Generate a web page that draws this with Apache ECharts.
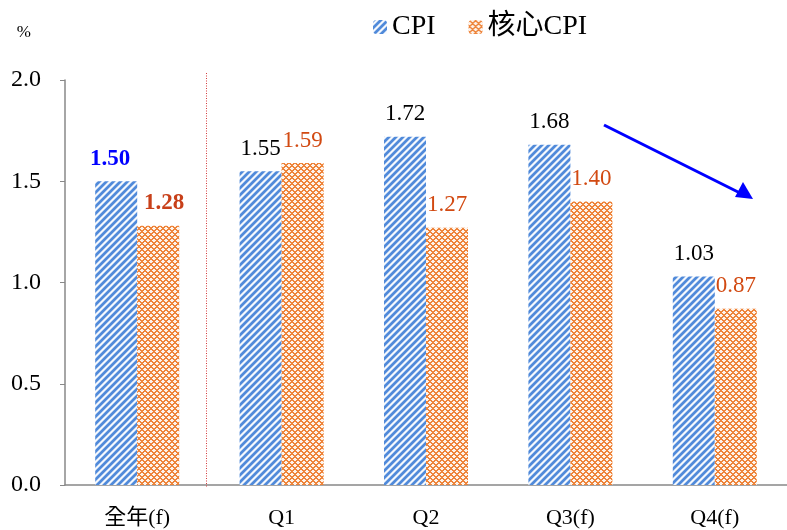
<!DOCTYPE html>
<html><head><meta charset="utf-8">
<script src="https://cdn.jsdelivr.net/npm/echarts@6/dist/echarts.min.js"></script>
<style>html,body{margin:0;padding:0;background:#fff}#c{width:787px;height:530px}</style>
</head><body><div id="c"></div>
<script>
const categories = ['全年(f)', 'Q1', 'Q2', 'Q3(f)', 'Q4(f)'];
const cpiValues = [1.50, 1.55, 1.72, 1.68, 1.03];
const coreValues = [1.28, 1.59, 1.27, 1.40, 0.87];
const yTicks = ['0.0', '0.5', '1.0', '1.5', '2.0'];

const FONT = "'Liberation Serif', 'Noto Sans CJK TC', serif";

function makePattern(size, fn) {
  const c = document.createElement('canvas');
  c.width = size; c.height = size;
  const ctx = c.getContext('2d');
  const img = ctx.createImageData(size, size);
  for (let y = 0; y < size; y++) for (let x = 0; x < size; x++) {
    const [r, g, b] = fn(x, y);
    const i = (y * size + x) * 4;
    img.data[i] = r; img.data[i + 1] = g; img.data[i + 2] = b; img.data[i + 3] = 255;
  }
  ctx.putImageData(img, 0, 0);
  return c;
}
function mix(a, b, t) { return a.map((v, i) => Math.round(v * (1 - t) + b[i] * t)); }
const BLUE = [80, 138, 218], WHITE = [255, 255, 255], ORANGE = [238, 132, 58];
const stripe = makePattern(7, (x, y) => {
  const p = (x + y) % 7;
  const t = 0.5 + 0.5 * Math.cos(2 * Math.PI * p / 7);
  return mix(WHITE, BLUE, Math.min(1, t * 1.25));
});
const hatch = makePattern(6, (x, y) => {
  const d1 = (x + y) % 6, d2 = ((x - y) % 6 + 6) % 6;
  const on = (d1 < 2 || d2 < 2);
  return on ? ORANGE : mix(WHITE, ORANGE, 0.1);
});

const chart = echarts.init(document.getElementById('c'));
const cpiData = cpiValues.map((v, i) => i === 0
  ? { value: v, label: { fontWeight: 'bold', color: '#0000ff', fontSize: 23, offset: [-6, 0] } }
  : v);
const coreData = coreValues.map((v, i) => i === 0
  ? { value: v, label: { fontWeight: 'bold', color: '#c8401a', fontSize: 23, offset: [6, 0] } }
  : v);

chart.setOption({
  animation: false,
  textStyle: { fontFamily: FONT },
  legend: {
    top: 8, left: 368,
    itemWidth: 14, itemHeight: 14, itemGap: 33,
    textStyle: { fontFamily: FONT, fontSize: 28, color: '#000' },
    data: ['CPI', '核心CPI']
  },
  grid: { left: 65, top: 80, width: 725, height: 405, containLabel: false },
  xAxis: {
    type: 'category', data: categories,
    axisLine: { lineStyle: { color: '#888', width: 1.5 } },
    axisTick: { show: false },
    axisLabel: { fontFamily: FONT, fontSize: 22, color: '#000', margin: 22 }
  },
  yAxis: {
    type: 'value', min: 0, max: 2, interval: 0.5,
    name: '%', nameLocation: 'end',
    nameGap: 39,
    nameTextStyle: { fontFamily: FONT, fontSize: 17, color: '#000', align: 'right', padding: [0, 34, 0, 0] },
    axisLine: { show: true, lineStyle: { color: '#888', width: 1.5 } },
    axisTick: { show: true, inside: false, length: 5, lineStyle: { color: '#888' } },
    splitLine: { show: false },
    axisLabel: { fontFamily: FONT, fontSize: 24, color: '#000', margin: 24,
      formatter: (v) => yTicks[Math.round(v / 0.5)] }
  },
  series: [
    {
      name: 'CPI', type: 'bar', data: cpiData, barWidth: 42, barGap: '0%',
      itemStyle: { color: { image: stripe, repeat: 'repeat' } },
      label: { show: true, position: 'top', distance: 11, fontFamily: FONT, fontSize: 23, color: '#000',
        formatter: (p) => p.value.toFixed(2) }
    },
    {
      name: '核心CPI', type: 'bar', data: coreData, barWidth: 42,
      itemStyle: { color: { image: hatch, repeat: 'repeat' } },
      label: { show: true, position: 'top', distance: 11, fontFamily: FONT, fontSize: 23, color: '#d24a12',
        formatter: (p) => p.value.toFixed(2) }
    }
  ]
});

const p0 = chart.convertToPixel({ seriesIndex: 0 }, [0, 0]);
const p1 = chart.convertToPixel({ seriesIndex: 0 }, [1, 0]);
const xSep = Math.round((p0[0] + p1[0]) / 2 - 3) + 0.5;
const yTop = chart.convertToPixel({ seriesIndex: 0 }, [0, 2])[1] - 7;
chart.setOption({
  graphic: [
    { type: 'line', shape: { x1: xSep, y1: yTop, x2: xSep, y2: p0[1] + 3 },
      style: { stroke: '#d33c3c', lineWidth: 1, lineDash: [1, 1.5] }, z: 10 },
    { type: 'line', shape: { x1: 604, y1: 125, x2: 742, y2: 194 },
      style: { stroke: '#0000ff', lineWidth: 3 }, z: 10 },
    { type: 'polygon', shape: { points: [[753, 199], [735, 197], [743, 182]] },
      style: { fill: '#0000ff' }, z: 10 }
  ]
});
</script></body></html>
